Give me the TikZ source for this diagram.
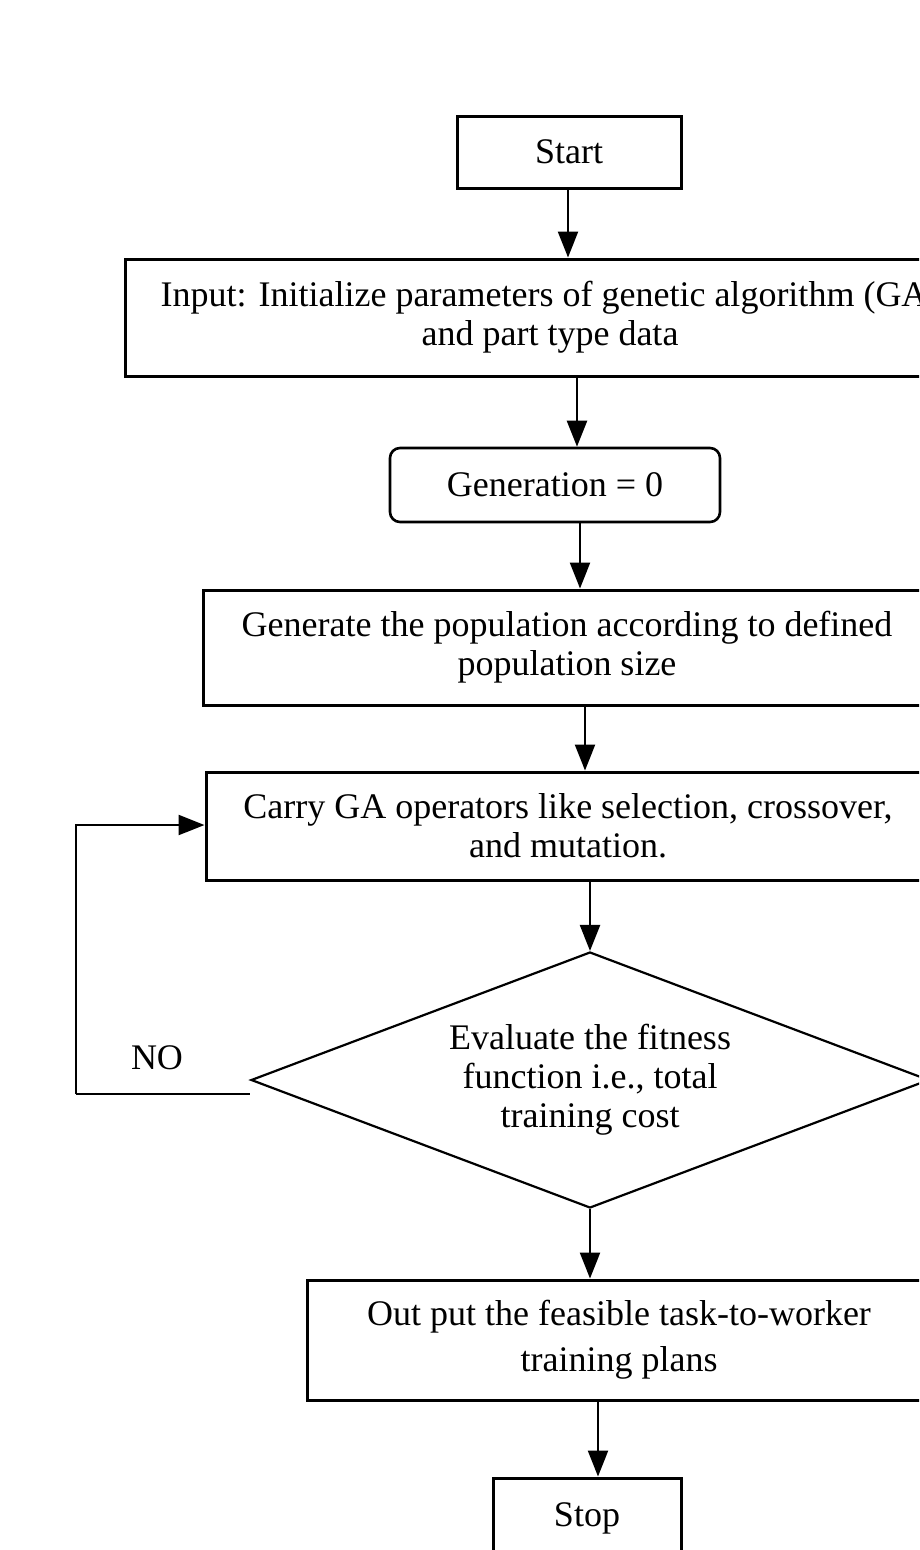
\documentclass[tikz,border=0pt]{standalone}
\usepackage{fontspec}
\setmainfont{Liberation Serif}
\usetikzlibrary{shapes.geometric,arrows.meta,calc}
\begin{document}
\begin{tikzpicture}[x=1pt,y=-1pt,
  txt/.style={font=\fontsize{36}{39}\selectfont},
  box/.style={txt,draw,line width=3pt,rectangle,inner sep=0pt,align=center},
  rbox/.style={box,rounded corners=10pt,line width=2.6pt},
  dia/.style={txt,draw,line width=2.2pt,diamond,inner sep=0pt,align=center,aspect=2.65},
  arr/.style={line width=2.4pt,-{Triangle[length=26pt,width=20pt]}},
  link/.style={line width=2.4pt}]
\useasboundingbox (0,0) rectangle (919,1550);
\clip (0,0) rectangle (919,1550);
\fill[white] (0,0) rectangle (919,1550);

\node[box,minimum width=224pt,minimum height=72pt] (start) at (569,152) {Start};
\node[box,minimum width=850pt,minimum height=117pt] (input) at (550,317.5)
  {Input: Initialize parameters of genetic algorithm (GA)\\and part type data};
\node[rbox,minimum width=330pt,minimum height=74pt] (gen) at (555,485) {Generation = 0};
\node[box,minimum width=728pt,minimum height=115pt] (generate) at (567,647.5)
  {Generate the population according to defined\\population size};
\node[box,minimum width=724pt,minimum height=108pt] (carry) at (568,826)
  {Carry GA operators like selection, crossover,\\and mutation.};
\node[dia,minimum width=678pt,minimum height=256pt] (eval) at (590,1080)
  {Evaluate the fitness\\function i.e., total\\training cost};
\node[box,minimum width=624pt,minimum height=120pt] (out) at (619,1340)
  {Out put the feasible task-to-worker\\[7pt]training plans};
\node[box,minimum width=188pt,minimum height=80pt] (stop) at (587,1518) {Stop};
\node[txt] (no) at (157,1058) {NO};

\draw[arr] (start.south -| 568,0) -- (input.north -| 568,0);
\draw[arr] (input.south -| 577,0) -- (gen.north -| 577,0);
\draw[arr] (gen.south -| 580,0) -- (generate.north -| 580,0);
\draw[arr] (generate.south -| 585,0) -- (carry.north -| 585,0);
\draw[arr] (carry.south -| eval.north) -- (eval.north);
\draw[arr] (eval.south) -- (out.north -| eval.south);
\draw[arr] (out.south -| 598,0) -- (stop.north -| 598,0);
\coordinate (loopcorner) at (76,1094);
\draw[link] ([yshift=-14pt]eval.west) -- (loopcorner);
\draw[arr] (loopcorner) -- (76,825) -- (carry.west |- 0,825);
\end{tikzpicture}
\end{document}
